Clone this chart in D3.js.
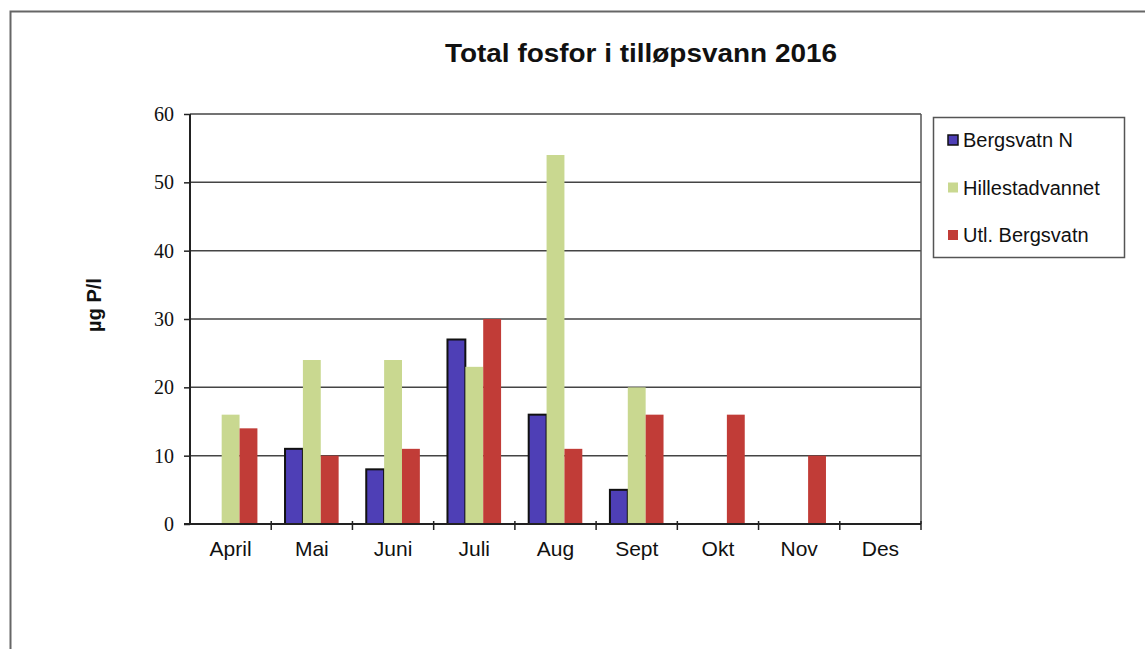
<!DOCTYPE html>
<html>
<head>
<meta charset="utf-8">
<script src="https://cdn.jsdelivr.net/npm/d3@7"></script>
<style>
  body { margin: 0; background: #fff; }
  svg { display: block; }
  .sans { font-family: "Liberation Sans", Arial, sans-serif; }
</style>
</head>
<body>
<div id="chart"></div>
<script>
// chart data
var months = ["April", "Mai", "Juni", "Juli", "Aug", "Sept", "Okt", "Nov", "Des"];
var seriesNames = ["Bergsvatn N", "Hillestadvannet", "Utl. Bergsvatn"];
var bergsvatnN = [0, 11, 8, 27, 16, 5, 0, 0, 0];
var hillestad = [16, 24, 24, 23, 54, 20, 0, 0, 0];
var utlBergsvatn = [14, 10, 11, 30, 11, 16, 16, 10, 0];
var yTicks = [0, 10, 20, 30, 40, 50, 60];

var colors = ["#4e3fb6", "#c9d890", "#c13c37"];

var svgWidth = 1145;
var svgHeight = 649;

var margin = { top: 114, left: 190 };
var width = 731;
var height = 410;

var svg = d3.select("#chart").append("svg")
  .attr("width", svgWidth)
  .attr("height", svgHeight);

// outer chart border
svg.append("rect")
  .attr("x", 10.5).attr("y", 11.5)
  .attr("width", 1200).attr("height", 700)
  .attr("fill", "none")
  .attr("stroke", "#666")
  .attr("stroke-width", 2);

// title
svg.append("text")
  .attr("class", "sans")
  .attr("x", 641).attr("y", 62)
  .attr("text-anchor", "middle")
  .attr("textLength", 392)
  .attr("lengthAdjust", "spacingAndGlyphs")
  .style("font-size", "25px")
  .style("font-weight", "bold")
  .attr("fill", "#111")
  .text("Total fosfor i tilløpsvann 2016");

var chartGroup = svg.append("g")
  .attr("transform", `translate(${margin.left}, ${margin.top})`);

var x0 = d3.scaleBand().domain(months).range([0, width]);
var x1 = d3.scaleBand().domain(seriesNames)
  .range([x0.bandwidth() * 0.17, x0.bandwidth() * 0.83]);
var y = d3.scaleLinear().domain([0, 60]).range([height, 0]);

// gridlines
chartGroup.selectAll(".grid")
  .data(yTicks.filter(d => d > 0))
  .enter()
  .append("line")
  .attr("x1", 0).attr("x2", width)
  .attr("y1", d => y(d)).attr("y2", d => y(d))
  .attr("stroke", "#444")
  .attr("stroke-width", 1.5);

// right border of plot
chartGroup.append("line")
  .attr("x1", width).attr("x2", width)
  .attr("y1", 0).attr("y2", height)
  .attr("stroke", "#555").attr("stroke-width", 1.5);

// bars
var rows = months.map(function(m, i) {
  return { month: m, values: [bergsvatnN[i], hillestad[i], utlBergsvatn[i]] };
});

var groups = chartGroup.selectAll(".month")
  .data(rows)
  .enter()
  .append("g")
  .attr("transform", d => `translate(${x0(d.month)}, 0)`);

groups.selectAll("rect")
  .data(d => d.values.map((v, k) => ({ name: seriesNames[k], value: v, k: k })).filter(e => e.value > 0))
  .enter()
  .append("rect")
  .attr("x", d => x1(d.name))
  .attr("width", x1.bandwidth())
  .attr("y", d => y(d.value))
  .attr("height", d => height - y(d.value))
  .attr("fill", d => colors[d.k])
  .attr("stroke", d => d.k === 0 ? "#111" : "none")
  .attr("stroke-width", 2);

// y axis
var leftAxis = d3.axisLeft(y).tickValues(yTicks).tickSize(6).tickPadding(10);
var yAxis = chartGroup.append("g").call(leftAxis);
yAxis.select(".domain").attr("stroke", "#222").attr("stroke-width", 2).attr("d", `M0,${height}V0`);
yAxis.selectAll(".tick line").attr("stroke", "#222").attr("stroke-width", 1.5);
yAxis.selectAll("text")
  .style("font-family", "'Liberation Serif', 'Times New Roman', serif")
  .style("font-size", "20px")
  .attr("fill", "#111");

// x axis
var bottomAxis = d3.axisBottom(x0).tickSize(0).tickPadding(17);
var xAxis = chartGroup.append("g")
  .attr("transform", `translate(0, ${height})`)
  .call(bottomAxis);
xAxis.select(".domain").attr("stroke", "#222").attr("stroke-width", 2).attr("d", `M-6,0H${width}`);
xAxis.selectAll("text")
  .attr("class", "sans")
  .style("font-size", "21px")
  .attr("fill", "#111");

// category boundary ticks
chartGroup.selectAll(".xtick")
  .data(months.slice(1).concat(["end"]))
  .enter()
  .append("line")
  .attr("x1", d => d === "end" ? width : x0(d))
  .attr("x2", d => d === "end" ? width : x0(d))
  .attr("y1", height - 3).attr("y2", height + 6)
  .attr("stroke", "#222").attr("stroke-width", 1.5);

// y axis label
svg.append("text")
  .attr("class", "sans")
  .attr("transform", "translate(101, 305) rotate(-90)")
  .attr("text-anchor", "middle")
  .style("font-size", "20px")
  .style("font-weight", "bold")
  .attr("fill", "#111")
  .text("µg P/l");

// legend
var legend = svg.append("g").attr("transform", "translate(933, 117)");
legend.append("rect")
  .attr("x", 0.5).attr("y", 0.5)
  .attr("width", 191).attr("height", 140)
  .attr("fill", "#fff")
  .attr("stroke", "#555")
  .attr("stroke-width", 1.5);

var legendItems = legend.selectAll(".item")
  .data(seriesNames)
  .enter()
  .append("g")
  .attr("transform", (d, i) => `translate(15, ${23 + i * 47.5})`);

legendItems.append("rect")
  .attr("x", 0).attr("y", -5)
  .attr("width", 10).attr("height", 10)
  .attr("fill", (d, i) => colors[i])
  .attr("stroke", (d, i) => i === 0 ? "#111" : "none")
  .attr("stroke-width", 1.5);

legendItems.append("text")
  .attr("class", "sans")
  .attr("x", 15).attr("y", 7)
  .style("font-size", "20px")
  .attr("fill", "#111")
  .text(d => d);
</script>
</body>
</html>
